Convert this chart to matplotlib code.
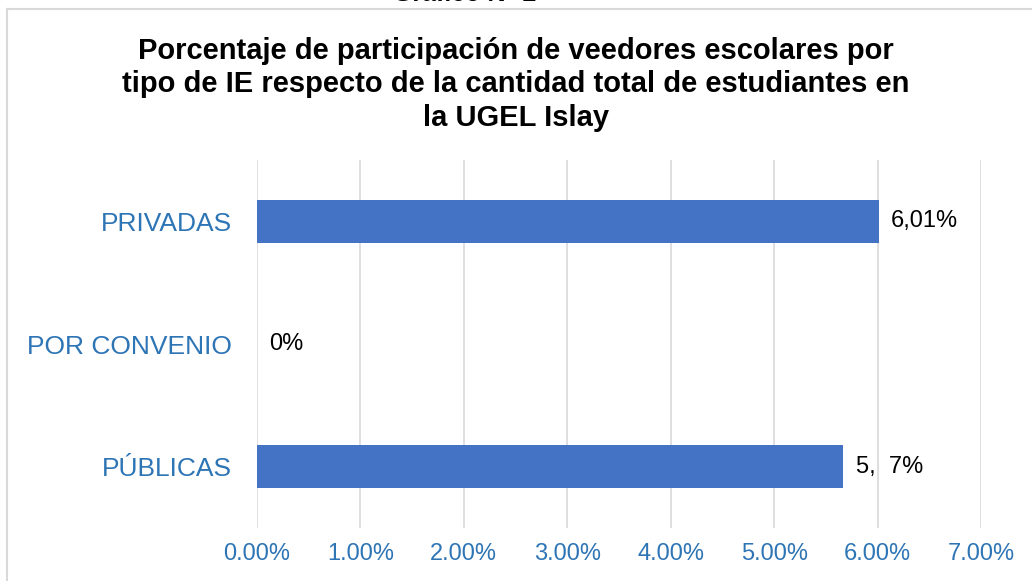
import numpy as np
import matplotlib
matplotlib.use("Agg")
import matplotlib.pyplot as plt
from matplotlib.lines import Line2D

plt.rcParams['font.family'] = ['Liberation Sans', 'DejaVu Sans']

# datos
categorias = ["PÚBLICAS", "POR CONVENIO", "PRIVADAS"]
valores = [5.67, 0.0, 6.01]
etiquetas = ["5,  7%", "0%", "6,01%"]
ticks = [0, 1, 2, 3, 4, 5, 6, 7]

azul = "#4472C4"
azul_txt = "#2E75B6"

fig = plt.figure(figsize=(10.32, 5.81), dpi=100)
ax = fig.add_axes([0.249, 0.0912, 0.7016, 0.6334])

y = np.arange(len(categorias))
ax.barh(y, valores, height=0.35, color=azul, zorder=3)
for yi, v, t in zip(y, valores, etiquetas):
    ax.text(v + 0.12, yi, t, va="center", ha="left", fontsize=17, color="black")

ax.set_xlim(0, 7)
ax.set_ylim(-0.5, 2.5)
ax.set_xticks(ticks)
ax.set_xticklabels([f"{t:.2f}%" for t in ticks], color=azul_txt, fontsize=17)
ax.set_yticks(y)
ax.set_yticklabels(categorias, color=azul_txt, fontsize=19)
ax.tick_params(axis="x", length=0, pad=11)
ax.tick_params(axis="y", length=0, pad=18)
ax.grid(axis="x", color="#D9D9D9", linewidth=1.2, zorder=0)
for s in ax.spines.values():
    s.set_visible(False)

fig.text(0.5, 0.855, "Porcentaje de participación de veedores escolares por\n"
         "tipo de IE respecto de la cantidad total de estudiantes en\n"
         "la UGEL Islay", ha="center", va="center", fontsize=21,
         fontweight="bold", linespacing=1.25)
fig.text(0.45, 0.99, "Gráfico N° 2", ha="center", va="bottom",
         fontsize=18, fontweight="bold")

# marco del gráfico
fig.add_artist(Line2D([0.0068, 1.0], [0.985, 0.985], color="#D9D9D9", lw=1.5))
fig.add_artist(Line2D([0.0068, 0.0068], [0.0, 0.985], color="#D9D9D9", lw=1.5))

plt.savefig("out.png", dpi=100)
